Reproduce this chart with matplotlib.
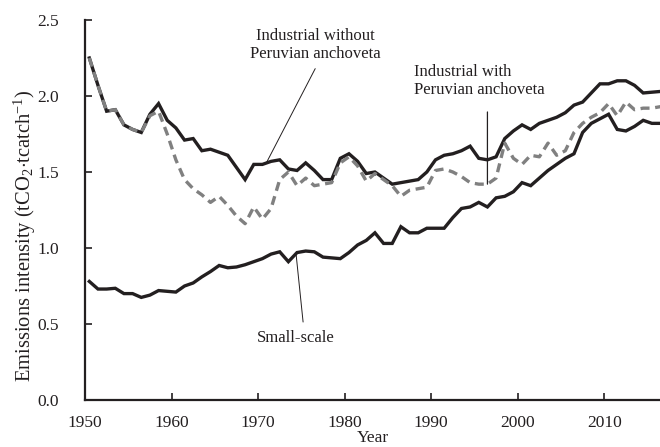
import matplotlib
matplotlib.use("Agg")
import matplotlib.pyplot as plt
import numpy as np

years = list(range(1950, 2017))

industrial_without = [
    2.25, 2.07, 1.90, 1.91, 1.81, 1.78, 1.76, 1.88, 1.95, 1.84,   # 1950-1959
    1.79, 1.71, 1.72, 1.64, 1.65, 1.63, 1.61, 1.53, 1.45, 1.55,   # 1960-1969
    1.55, 1.57, 1.58, 1.52, 1.51, 1.56, 1.51, 1.45, 1.45, 1.59,   # 1970-1979
    1.62, 1.57, 1.49, 1.50, 1.46, 1.42, 1.43, 1.44, 1.45, 1.50,   # 1980-1989
    1.58, 1.61, 1.62, 1.64, 1.67, 1.59, 1.58, 1.60, 1.72, 1.77,   # 1990-1999
    1.81, 1.78, 1.82, 1.84, 1.86, 1.89, 1.94, 1.96, 2.02, 2.08,   # 2000-2009
    2.08, 2.10, 2.10, 2.07, 2.02, 2.025, 2.03,                    # 2010-2016
]

industrial_with = [
    2.25, 2.07, 1.90, 1.91, 1.81, 1.78, 1.76, 1.87, 1.90, 1.75,   # 1950-1959
    1.58, 1.45, 1.39, 1.35, 1.30, 1.34, 1.28, 1.21, 1.16, 1.27,   # 1960-1969
    1.19, 1.26, 1.45, 1.50, 1.41, 1.46, 1.41, 1.42, 1.43, 1.56,   # 1970-1979
    1.60, 1.54, 1.44, 1.49, 1.45, 1.41, 1.34, 1.38, 1.39, 1.40,   # 1980-1989
    1.51, 1.52, 1.50, 1.47, 1.43, 1.42, 1.42, 1.46, 1.69, 1.59,   # 1990-1999
    1.55, 1.61, 1.60, 1.69, 1.61, 1.64, 1.76, 1.82, 1.86, 1.89,   # 2000-2009
    1.95, 1.87, 1.96, 1.91, 1.92, 1.92, 1.93,                     # 2010-2016
]

small_scale = [
    0.78, 0.73, 0.73, 0.735, 0.70, 0.70, 0.675, 0.69, 0.72, 0.715,  # 1950-1959
    0.71, 0.75, 0.77, 0.81, 0.845, 0.885, 0.87, 0.875, 0.89, 0.91,  # 1960-1969
    0.93, 0.96, 0.975, 0.91, 0.97, 0.98, 0.975, 0.94, 0.935, 0.93,  # 1970-1979
    0.97, 1.02, 1.05, 1.10, 1.03, 1.03, 1.14, 1.10, 1.10, 1.13,     # 1980-1989
    1.13, 1.13, 1.20, 1.26, 1.27, 1.30, 1.27, 1.33, 1.34, 1.37,     # 1990-1999
    1.43, 1.41, 1.46, 1.51, 1.55, 1.59, 1.62, 1.76, 1.82, 1.85,     # 2000-2009
    1.88, 1.78, 1.77, 1.80, 1.84, 1.82, 1.82,                       # 2010-2016
]

x_ticks = [1950, 1960, 1970, 1980, 1990, 2000, 2010]
y_ticks = [0.0, 0.5, 1.0, 1.5, 2.0, 2.5]

label_without = "Industrial without\nPeruvian anchoveta"
label_with = "Industrial with\nPeruvian anchoveta"
label_small = "Small-scale"

plt.rcParams['font.family'] = ['Liberation Serif', 'DejaVu Serif']
plt.rcParams['mathtext.fontset'] = 'custom'
plt.rcParams['mathtext.rm'] = 'Liberation Serif'
plt.rcParams['mathtext.it'] = 'Liberation Serif:italic'

DARK = '#231f20'
GRAY = '#808080'

fig = plt.figure(figsize=(6.6, 4.47), dpi=100)
ax = fig.add_axes([85 / 660, 47 / 447, 575 / 660, 380 / 447])

# mid-year positions
xpos = np.array(years) + 0.5

ax.plot(xpos, industrial_without, color=DARK, lw=2.4, solid_joinstyle='miter', zorder=3)
ax.plot(xpos, small_scale, color=DARK, lw=2.4, solid_joinstyle='miter', zorder=3)
ax.plot(xpos, industrial_with, color=GRAY, lw=2.4, dashes=(2.7, 1.7), zorder=4)

ax.set_xlim(1950, 2016.44)
ax.set_ylim(0, 2.5)
ax.set_xticks(x_ticks)
ax.set_yticks(y_ticks)
ax.set_yticklabels([f"{v:.1f}" for v in y_ticks])

for s in ['top', 'right']:
    ax.spines[s].set_visible(False)
for s in ['left', 'bottom']:
    ax.spines[s].set_linewidth(1.6)
    ax.spines[s].set_color(DARK)

ax.tick_params(axis='both', direction='in', length=5, width=1.2, colors=DARK,
               labelsize=12.5, labelcolor=DARK)
ax.tick_params(axis='y', pad=19)
ax.tick_params(axis='x', pad=11)

fig.text((85 + 660) / 2 / 660, 1 / 447, "Year", ha='center', va='bottom',
         fontsize=12.5, color=DARK)
fig.text(25 / 660, 1 - 236 / 447, r"Emissions intensity (tCO$_2$$\cdot$tcatch$^{-1}$)",
         rotation=90, ha='center', va='center', fontsize=14.8, color=DARK)

# annotations
ax.text(1976.6, 2.336, label_without, ha='center', va='center', fontsize=12,
        color=DARK, linespacing=1.2)
ax.annotate("", xy=(1971.0, 1.565), xytext=(1976.6, 2.18),
            arrowprops=dict(arrowstyle='-', color=DARK, lw=0.7, shrinkA=0, shrinkB=0))

ax.text(1988.0, 2.10, label_with, ha='left', va='center', fontsize=12,
        color=DARK, linespacing=1.2)
ax.annotate("", xy=(1996.5, 1.42), xytext=(1996.5, 1.895),
            arrowprops=dict(arrowstyle='-', color=DARK, lw=0.9, shrinkA=0, shrinkB=0))

ax.text(1974.4, 0.408, label_small, ha='center', va='center', fontsize=12, color=DARK)
ax.annotate("", xy=(1974.4, 0.954), xytext=(1975.2, 0.513),
            arrowprops=dict(arrowstyle='-', color=DARK, lw=0.7, shrinkA=0, shrinkB=0))

fig.savefig("out.png", dpi=100)
